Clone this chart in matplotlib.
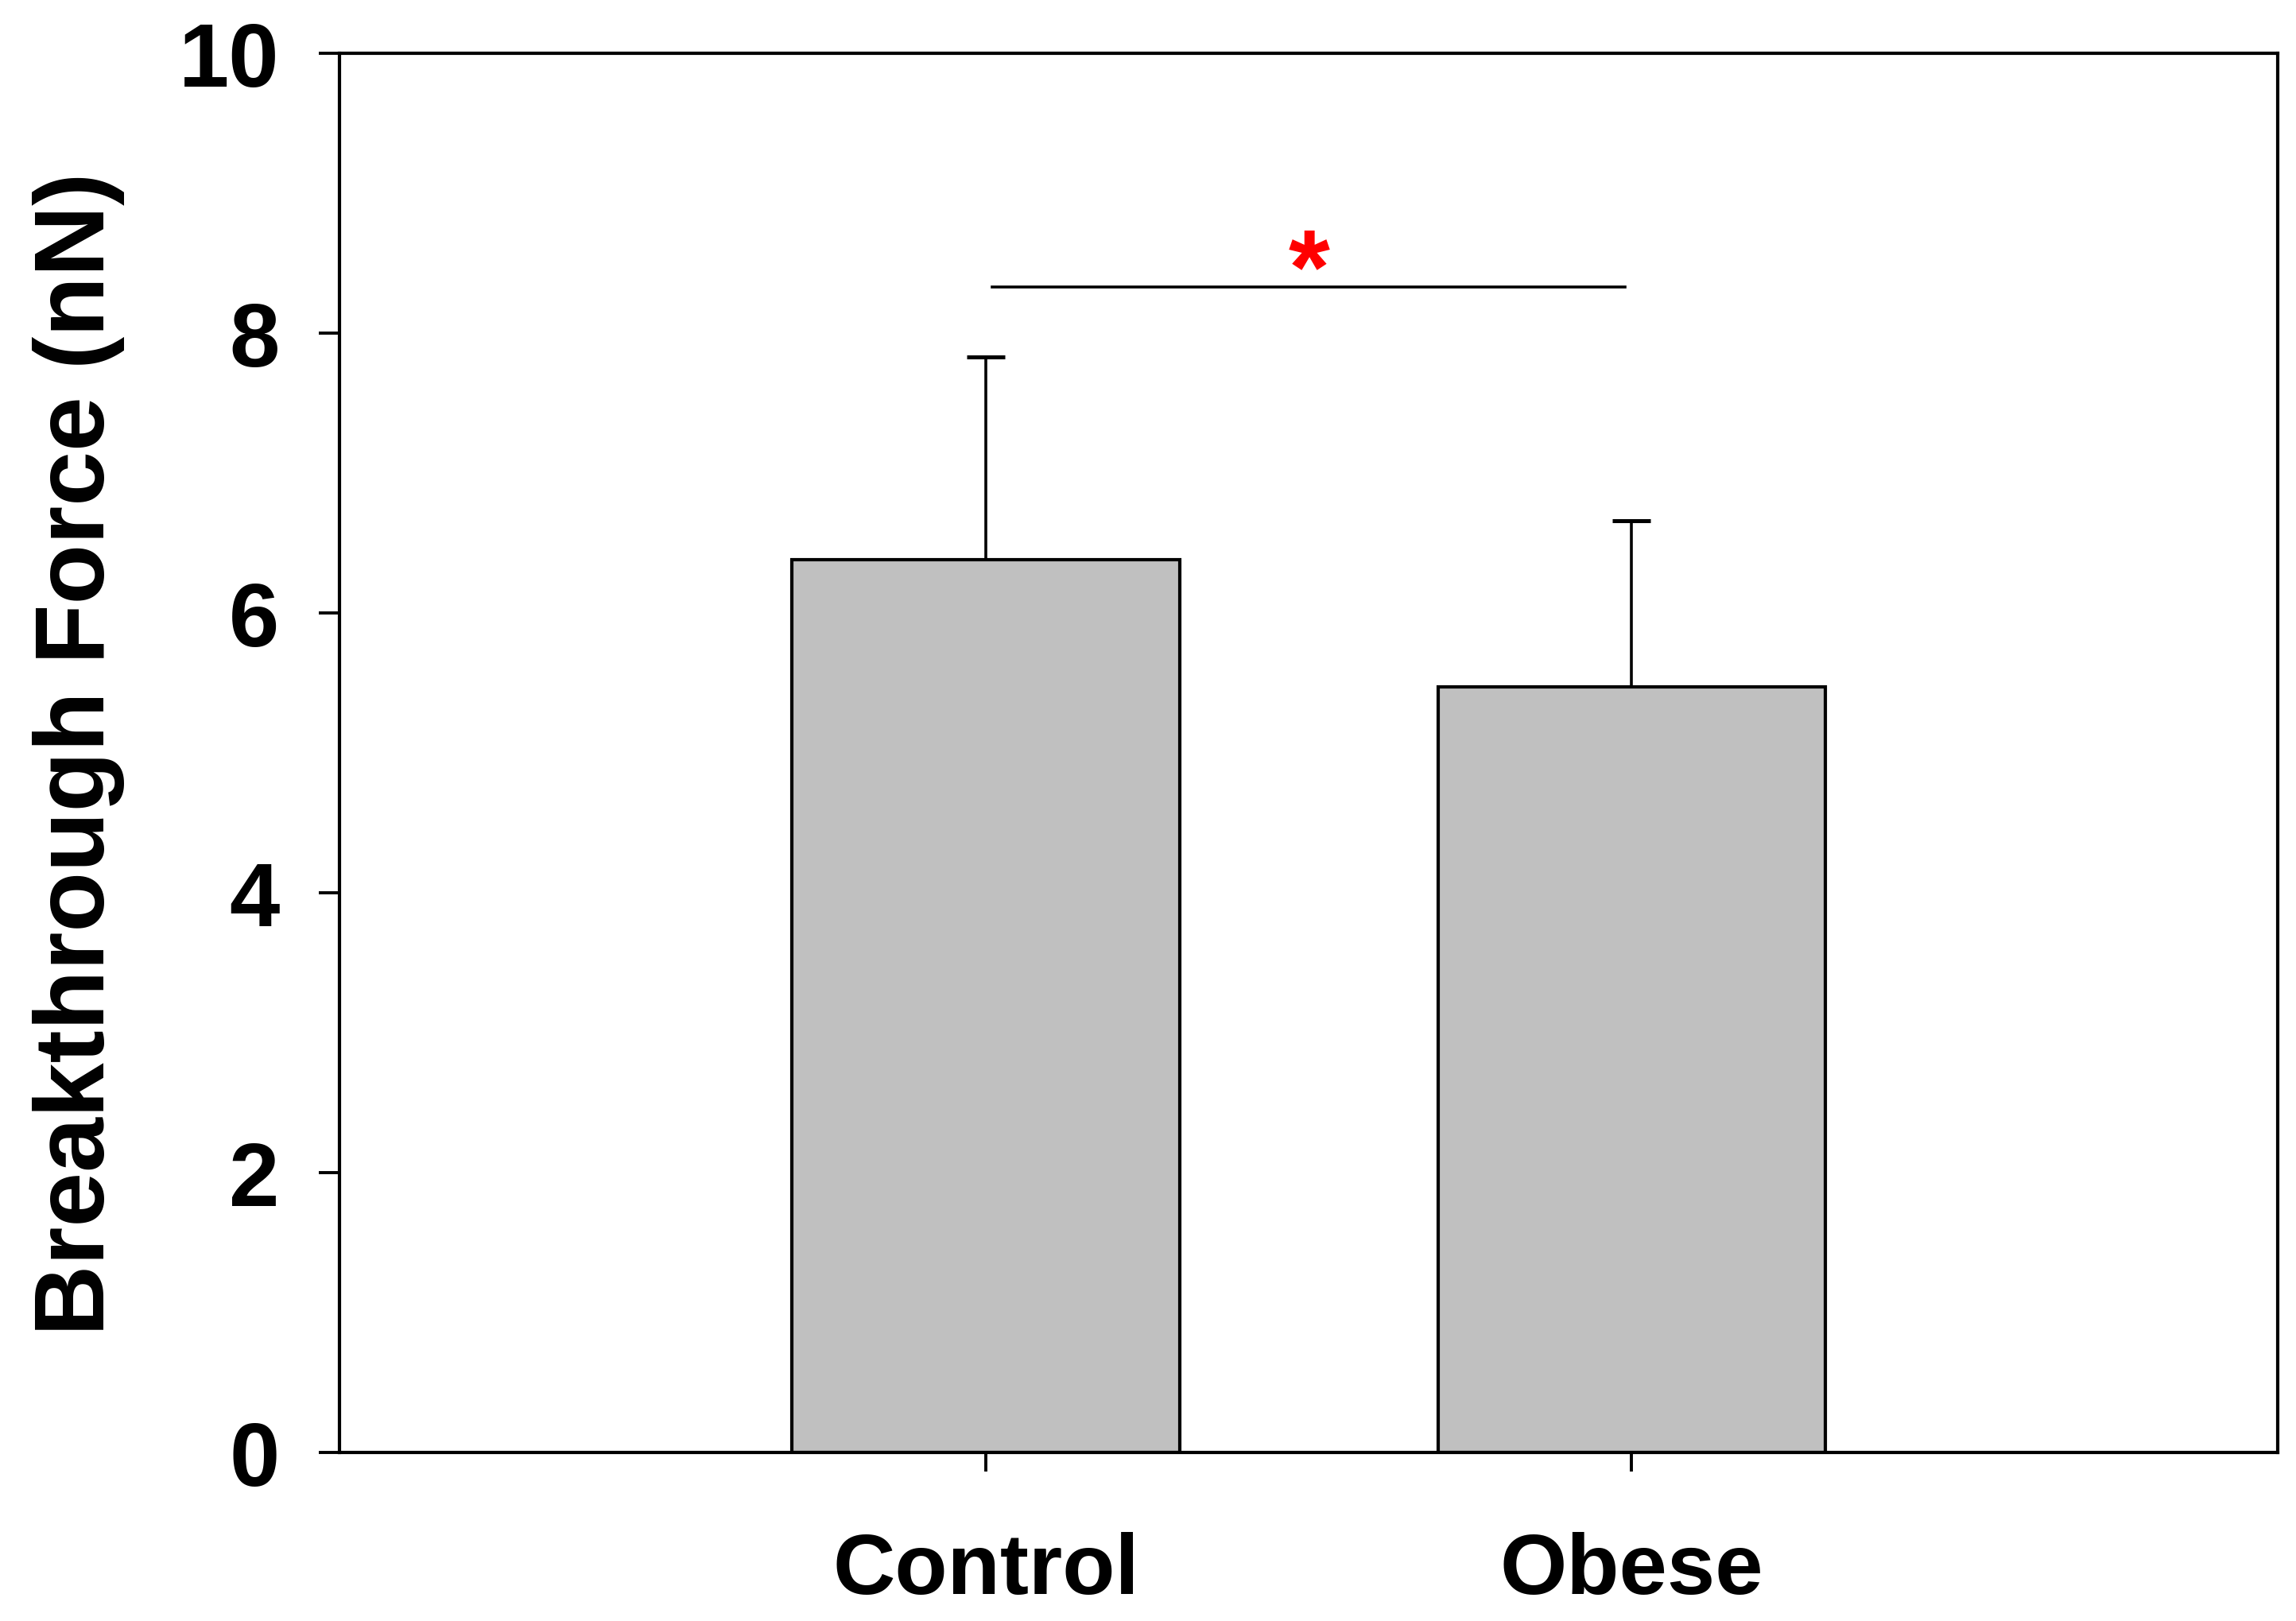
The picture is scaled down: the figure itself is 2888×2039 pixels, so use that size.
import matplotlib.pyplot as plt
import numpy as np

groups = ['Control', 'Obese']
means = [6.38, 5.47]
errors = [1.45, 1.19]
sig_y = 8.33

plt.rcParams['font.family'] = ['Liberation Sans', 'DejaVu Sans']
plt.rcParams['font.weight'] = 'bold'

fig = plt.figure(figsize=(14.44, 10.2), dpi=200)
ax = fig.add_axes([0.148, 0.104, 0.844, 0.8626])

x = np.arange(1, len(groups) + 1)
ax.errorbar(x, means, yerr=[np.zeros(len(means)), errors], fmt='none',
            ecolor='black', elinewidth=1.3, capsize=8.6, capthick=1.8, zorder=1)
ax.bar(x, means, width=0.6, color='#c0c0c0', edgecolor='black', linewidth=1.5, zorder=2)

# significance bar
ax.plot([1.01, 1.99], [sig_y, sig_y], color='black', lw=1.3)
ax.text(1.5, sig_y - 0.27, '*', color='red', fontsize=48, ha='center', va='bottom',
        fontweight='bold')

ax.set_xlim(0, 3)
ax.set_ylim(0, 10)
ax.set_xticks(x)
ax.set_xticklabels(groups)
ax.set_yticks(np.arange(0, 11, 2))
ax.tick_params(axis='y', direction='out', length=9.3, width=1.4, labelsize=41, pad=18)
ax.tick_params(axis='x', direction='out', length=8.6, width=1.4, labelsize=39, pad=27)
for s in ax.spines.values():
    s.set_linewidth(1.5)

ax.set_ylabel('Breakthrough Force (nN)', fontsize=44.5, fontweight='bold')
ax.yaxis.set_label_coords(-0.111, 0.5)

fig.savefig('out.png', dpi=200)
